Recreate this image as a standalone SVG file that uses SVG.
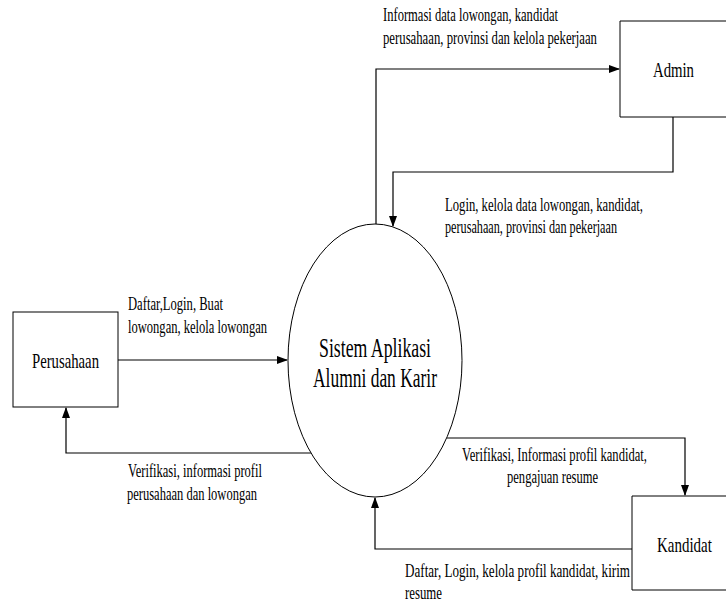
<svg xmlns="http://www.w3.org/2000/svg" width="726" height="603" viewBox="0 0 726 603">
<defs>
<style>
.box{fill:#fff;stroke:#000;stroke-width:1}
.ell{fill:#fff;stroke:#000;stroke-width:1}
.ln{fill:none;stroke:#000;stroke-width:1.2}
text{font-family:"Liberation Serif","Times New Roman",serif;fill:#000}
.lbl{font-size:18px}
.nd{font-size:22px}
.ctr{font-size:27px}
</style>
<marker id="arr" markerWidth="11" markerHeight="9" refX="10" refY="4" orient="auto" markerUnits="userSpaceOnUse">
<path d="M0,0 L11,4 L0,8 Z" fill="#000"/>
</marker>
</defs>
<rect width="726" height="603" fill="#fff"/>
<g id="connectors">
<path class="ln" d="M376,224 V69 H619" marker-end="url(#arr)"/>
<path class="ln" d="M673,117 V172 H393 V226" marker-end="url(#arr)"/>
<path class="ln" d="M118,360 H287" marker-end="url(#arr)"/>
<path class="ln" d="M311,453 H66 V408" marker-end="url(#arr)"/>
<path class="ln" d="M447,438 H685 V495" marker-end="url(#arr)"/>
<path class="ln" d="M632,549 H375 V498" marker-end="url(#arr)"/>
</g>
<g id="labels">
<text class="lbl" x="383" y="21" textLength="175" lengthAdjust="spacingAndGlyphs">Informasi data lowongan, kandidat</text>
<text class="lbl" x="383" y="44" textLength="214" lengthAdjust="spacingAndGlyphs">perusahaan, provinsi dan kelola pekerjaan</text>
<text class="lbl" x="445" y="211" textLength="198" lengthAdjust="spacingAndGlyphs">Login, kelola data lowongan, kandidat,</text>
<text class="lbl" x="445" y="233" textLength="172" lengthAdjust="spacingAndGlyphs">perusahaan, provinsi dan pekerjaan</text>
<text class="lbl" x="128" y="310" textLength="95" lengthAdjust="spacingAndGlyphs">Daftar,Login, Buat</text>
<text class="lbl" x="128" y="333" textLength="139" lengthAdjust="spacingAndGlyphs">lowongan, kelola lowongan</text>
<text class="lbl" x="128" y="477" textLength="134" lengthAdjust="spacingAndGlyphs">Verifikasi, informasi profil</text>
<text class="lbl" x="127" y="500" textLength="130" lengthAdjust="spacingAndGlyphs">perusahaan dan lowongan</text>
<text class="lbl" x="462" y="461" textLength="185" lengthAdjust="spacingAndGlyphs">Verifikasi, Informasi profil kandidat,</text>
<text class="lbl" x="507" y="483" textLength="91" lengthAdjust="spacingAndGlyphs">pengajuan resume</text>
<text class="lbl" x="405" y="577" textLength="225" lengthAdjust="spacingAndGlyphs">Daftar, Login, kelola profil kandidat, kirim</text>
<text class="lbl" x="405" y="599" textLength="37" lengthAdjust="spacingAndGlyphs">resume</text>
</g>
<g id="node-admin">
<path class="box" d="M726,21 H620 V117 H726"/>
<text class="nd" x="653" y="77" textLength="41" lengthAdjust="spacingAndGlyphs">Admin</text>
</g>
<g id="node-perusahaan">
<rect class="box" x="13" y="312" width="105" height="95"/>
<text class="nd" x="32" y="368" textLength="67" lengthAdjust="spacingAndGlyphs">Perusahaan</text>
</g>
<g id="node-kandidat">
<path class="box" d="M726,496 H632 V590 H726"/>
<text class="nd" transform="translate(657,552) scale(0.68,1)" x="0" y="0">Kandidat</text>
</g>
<g id="node-sistem">
<ellipse class="ell" cx="375" cy="360.5" rx="87" ry="136.5"/>
<text class="ctr" x="319" y="357" textLength="112" lengthAdjust="spacingAndGlyphs">Sistem Aplikasi</text>
<text class="ctr" x="313" y="387" textLength="124" lengthAdjust="spacingAndGlyphs">Alumni dan Karir</text>
</g>
</svg>
